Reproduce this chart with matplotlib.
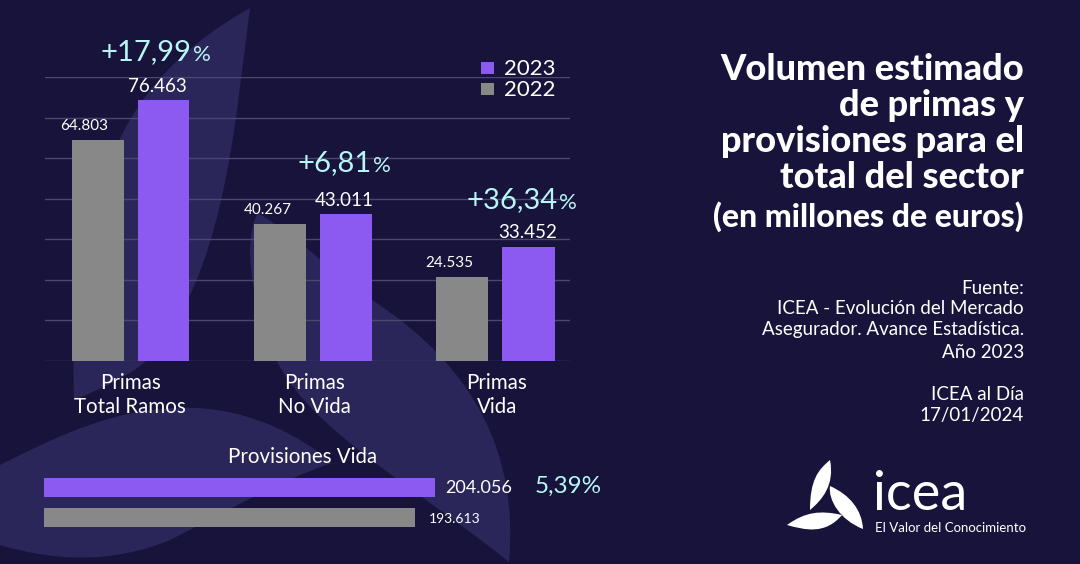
import matplotlib
matplotlib.use("Agg")
import matplotlib.pyplot as plt
from matplotlib.patches import PathPatch, Rectangle
from matplotlib.path import Path
import numpy as np

# datos
categorias = ["Primas\nTotal Ramos", "Primas\nNo Vida", "Primas\nVida"]
valores_2022 = [64803, 40267, 24535]
valores_2023 = [76463, 43011, 33452]
variacion = ["+17,99", "+6,81", "+36,34"]
provisiones_2022 = 193613
provisiones_2023 = 204056
variacion_prov = "5,39%"
titulo = ["Volumen estimado", "de primas y", "provisiones para el", "total del sector", "(en millones de euros)"]
fuente = ["Fuente:", "ICEA - Evolución del Mercado", "Asegurador. Avance Estadística.", "Año 2023"]
fecha = ["ICEA al Día", "17/01/2024"]

FONDO = "#17133a"
MANCHA = "#2a2659"
MORADO = "#8c5af0"
GRIS = "#888888"
CIAN = "#b8f6f6"
BLANCO = "#ffffff"

plt.rcParams["font.family"] = ["Lato", "DejaVu Sans"]

W, H = 1080, 564


def eje_pixeles(fig, z):
    # eje que cubre toda la figura, en pixeles de la imagen
    ax = fig.add_axes([0, 0, 1, 1], zorder=z)
    ax.set_xlim(0, W)
    ax.set_ylim(H, 0)
    ax.axis("off")
    return ax


def eje_rect(fig, x0, y0, x1, y1, z):
    ax = fig.add_axes([x0 / W, 1 - y1 / H, (x1 - x0) / W, (y1 - y0) / H], zorder=z)
    ax.patch.set_alpha(0)
    for s in ax.spines.values():
        s.set_visible(False)
    return ax


def mancha(ax, inicio, curvas, color):
    # curvas: lista de (control1, control2, punto)
    verts = [inicio]
    codes = [Path.MOVETO]
    for c1, c2, p in curvas:
        verts += [c1, c2, p]
        codes += [Path.CURVE4] * 3
    verts.append(inicio)
    codes.append(Path.CLOSEPOLY)
    ax.add_patch(PathPatch(Path(verts, codes), facecolor=color, edgecolor="none"))


fig = plt.figure(figsize=(W / 100, H / 100), dpi=100, facecolor=FONDO)

# =============================================================================
# FONDO
# =============================================================================
fondo = eje_pixeles(fig, 0)
# hoja superior
mancha(fondo, (250, 8), [
    ((175, 50), (125, 105), (100, 190)),
    ((75, 270), (72, 340), (74, 400)),
    ((110, 385), (130, 375), (146, 361)),
    ((225, 280), (235, 120), (250, 8)),
], MANCHA)
# hoja central
mancha(fondo, (258, 213), [
    ((245, 235), (246, 290), (277, 361)),
    ((310, 430), (420, 490), (509, 562)),
    ((518, 460), (480, 370), (372, 300)),
    ((330, 270), (295, 235), (258, 213)),
], MANCHA)
# mancha inferior izquierda
mancha(fondo, (0, 465), [
    ((60, 435), (120, 405), (195, 408)),
    ((250, 410), (300, 435), (332, 463)),
    ((280, 480), (220, 515), (170, 540)),
    ((110, 565), (50, 560), (0, 545)),
], MANCHA)

# =============================================================================
# BARRAS VERTICALES
# =============================================================================
ax = eje_rect(fig, 45, 77, 570, 361, 1)
paso = 182.5
x = np.arange(len(categorias))
esc = 261 / valores_2023[0]
ymax = 284 / esc
ax.set_xlim((45 - 130.5) / paso, (570 - 130.5) / paso)
ax.set_ylim(0, ymax)
ax.set_yticks(np.linspace(0, ymax, 8))
ax.set_xticks([])
ax.tick_params(left=False, labelleft=False)
ax.grid(True, axis="y", color="#4b4870", linewidth=1)
ax.set_axisbelow(True)
ax.bar(x - 33 / paso, valores_2022, 52 / paso, color=GRIS)
ax.bar(x + 33 / paso, valores_2023, 52 / paso, color=MORADO)

ajuste_22 = [-13, -12, -13]
ajuste_23 = [-6, -2, -1]
for i in x:
    ax.annotate(f"{valores_2022[i]:,}".replace(",", "."), (i - 33 / paso, valores_2022[i]),
                xytext=(ajuste_22[i] * 0.72, 10), textcoords="offset points",
                ha="center", va="center", color=BLANCO, fontsize=11)
    ax.annotate(f"{valores_2023[i]:,}".replace(",", "."), (i + 33 / paso, valores_2023[i]),
                xytext=(ajuste_23[i] * 0.72, 10), textcoords="offset points",
                ha="center", va="center", color=BLANCO, fontsize=13.5)

# =============================================================================
# BARRAS HORIZONTALES
# =============================================================================
axh = eje_rect(fig, 44, 478, 435, 527, 1)
axh.set_xlim(0, provisiones_2023)
axh.set_ylim(1 + 9.5 / 30, -9.5 / 30)
axh.set_xticks([])
axh.set_yticks([])
axh.barh([0, 1], [provisiones_2023, provisiones_2022], 19 / 30, color=[MORADO, GRIS])

# =============================================================================
# TEXTOS
# =============================================================================
txt = eje_pixeles(fig, 2)

# variaciones: numero grande y % pequeño
pos_var = [(192, 52), (372, 163), (558, 200)]
for v, (px, py) in zip(variacion, pos_var):
    txt.text(px, py, v, color=CIAN, fontsize=21, ha="right", va="center")
    txt.text(px + 1, py + 3, "%", color=CIAN, fontsize=16, ha="left", va="center")

# leyenda
txt.add_patch(Rectangle((481, 62), 13, 12, color=MORADO, lw=0))
txt.add_patch(Rectangle((481, 83), 13, 12, color=GRIS, lw=0))
txt.text(504, 69, "2023", color=BLANCO, fontsize=16, va="center")
txt.text(504, 90, "2022", color=BLANCO, fontsize=16, va="center")

# categorias
for c, px in zip(categorias, [130, 314, 497]):
    l1, l2 = c.split("\n")
    txt.text(px, 383, l1, color=BLANCO, fontsize=14.8, ha="center", va="center")
    txt.text(px, 407, l2, color=BLANCO, fontsize=14.8, ha="center", va="center")

txt.text(303, 457, "Provisiones Vida", color=BLANCO, fontsize=14.8, ha="center", va="center")
txt.text(445, 488, f"{provisiones_2023:,}".replace(",", "."), color=BLANCO, fontsize=13, va="center")
txt.text(429, 519, f"{provisiones_2022:,}".replace(",", "."), color=BLANCO, fontsize=10, va="center")
txt.text(535, 486, variacion_prov, color=CIAN, fontsize=17.5, va="center")

# titulo
for t, py in zip(titulo[:4], [69, 105, 142, 178]):
    txt.text(1024, py, t, color=BLANCO, fontsize=26, fontweight="black", ha="right", va="center")
txt.text(1024, 217, titulo[4], color=BLANCO, fontsize=23, fontweight="black", ha="right", va="center")

# fuente
for t, py in zip(fuente + fecha, [288, 308, 330, 352, 394, 415]):
    txt.text(1024, py, t, color=BLANCO, fontsize=13.5, ha="right", va="center")

# logo
mancha(txt, (830, 460), [
    ((818, 470), (810, 480), (810, 510)),
    ((822, 500), (835, 485), (830, 460)),
], BLANCO)
mancha(txt, (830, 486), [
    ((828, 500), (840, 520), (863, 529)),
    ((862, 510), (850, 495), (830, 486)),
], BLANCO)
mancha(txt, (787, 525), [
    ((805, 530), (825, 535), (842, 515)),
    ((820, 510), (805, 512), (787, 525)),
], BLANCO)
txt.text(873, 510, "icea", color=BLANCO, fontsize=39, ha="left", va="baseline")
txt.text(875, 528, "El Valor del Conocimiento", color=BLANCO, fontsize=9.5, ha="left", va="center")

fig.savefig("out.png", dpi=100, facecolor=FONDO)
